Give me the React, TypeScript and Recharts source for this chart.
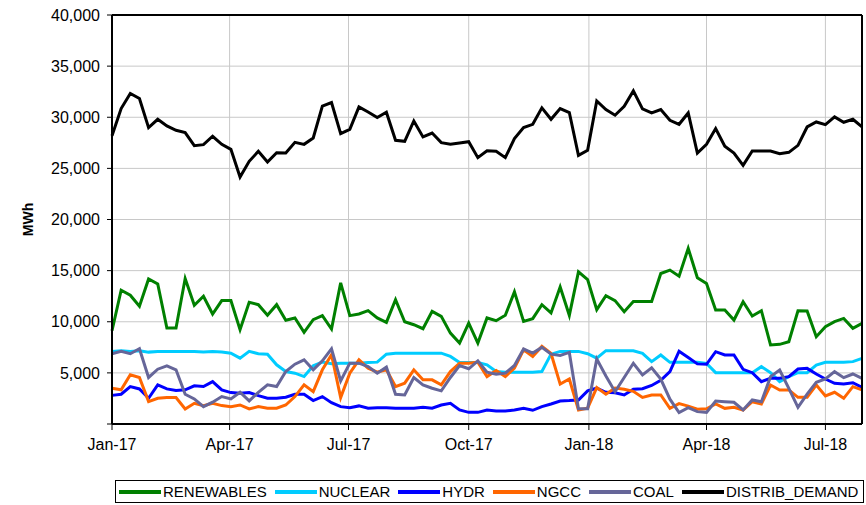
import React from 'react';
import { LineChart, Line, XAxis, YAxis, CartesianGrid, ReferenceLine } from 'recharts';

// weekly values, first week starts 1 Jan 2017
const START_DATE = '2017-01-01';

const RENEWABLES = [
  9120, 13080, 12590, 11510, 14190, 13700, 9390, 9390, 14220, 11610,
  12490, 10760, 12070, 12070, 9220, 11900, 11670, 10630, 11670, 10140,
  10370, 8960, 10200, 10600, 9290, 13800, 10600, 10760, 11090, 10370,
  9940, 12160, 10000, 9710, 9320, 11020, 10530, 8890, 7910, 9870,
  7910, 10370, 10100, 10630, 12920, 10040, 10300, 11670, 10860, 13400,
  10630, 14880, 14130, 11180, 12550, 12070, 10980, 11980, 11980, 11980,
  14720, 15050, 14460, 17180, 14300, 13740, 11150, 11150, 10170, 11960,
  10560, 11080, 7730, 7790, 8050, 11080, 11050, 8540, 9520, 10010,
  10330, 9360, 9840,
];

const NUCLEAR = [
  7100, 7160, 7100, 7160, 7030, 7100, 7100, 7100, 7100, 7100,
  7030, 7100, 7030, 6930, 6440, 7100, 6870, 6830, 5790, 5130,
  4970, 4640, 5690, 6050, 5890, 5950, 5950, 5950, 6020, 6050,
  6830, 6930, 6930, 6930, 6930, 6930, 6930, 6610, 6020, 6020,
  6020, 5790, 5130, 5070, 5070, 5070, 5070, 5130, 6830, 7100,
  7100, 7100, 6870, 6440, 7170, 7170, 7170, 7170, 6910, 6100,
  6750, 6030, 6030, 6030, 6030, 5930, 5020, 5020, 5020, 5020,
  5020, 5610, 5020, 4140, 4630, 5020, 5020, 5770, 6030, 6030,
  6030, 6100, 6420,
];

const HYDR = [
  2800, 2910, 3660, 3430, 2520, 3830, 3430, 3270, 3340, 3730,
  3660, 4150, 3340, 3070, 3010, 3070, 2780, 2520, 2520, 2620,
  2910, 2910, 2290, 2680, 2090, 1700, 1600, 1770, 1540, 1600,
  1600, 1540, 1540, 1540, 1640, 1540, 1860, 2030, 1370, 1140,
  1140, 1370, 1280, 1280, 1370, 1540, 1340, 1700, 1960, 2250,
  2290, 2350, 3240, 3500, 3100, 3050, 2840, 3400, 3450, 3770,
  4280, 5120, 7120, 6500, 5880, 5840, 7070, 6750, 6750, 5350,
  5020, 4140, 4470, 4470, 4630, 5380, 5440, 4890, 4400, 3980,
  3910, 4040, 3590,
];

const NGCC = [
  3500, 3340, 4810, 4550, 2190, 2520, 2580, 2580, 1470, 2030,
  1800, 2030, 1800, 1700, 1860, 1470, 1700, 1540, 1540, 1860,
  2680, 3830, 3170, 5300, 6770, 2580, 4970, 6280, 5460, 5070,
  5300, 3660, 3990, 5300, 4320, 4320, 3830, 5130, 5950, 5950,
  6050, 4640, 5230, 4640, 5460, 7260, 6610, 7590, 6900, 3900,
  4400, 1370, 1550, 3560, 2920, 3520, 3400, 3200, 2600, 2840,
  2840, 1540, 1990, 1750, 1450, 1480, 1960, 1530, 1630, 1370,
  2180, 1960, 3810, 3330, 3330, 2610, 2610, 3810, 2740, 3100,
  2510, 3650, 3330,
];

const COAL = [
  6870, 7100, 6870, 7360, 4550, 5360, 5690, 5300, 2910, 2450,
  1700, 2130, 2680, 2450, 3110, 2260, 3100, 3830, 3660, 5130,
  5850, 6280, 5300, 6180, 7360, 4220, 5950, 5950, 5620, 4970,
  5560, 2910, 2840, 4550, 3830, 3500, 3240, 4550, 5720, 5400,
  6180, 5070, 4870, 4970, 5720, 7330, 6930, 7490, 6830, 6700,
  7000, 1480, 1480, 6350, 4700, 3160, 4550, 5940, 4800, 5500,
  4400, 2430, 1120, 1600, 1210, 1140, 2250, 2180, 2120, 1370,
  2350, 2180, 4630, 5280, 3490, 1630, 2930, 4080, 4400, 5120,
  4530, 4890, 4470,
];

const DISTRIB_DEMAND = [
  28200, 30850, 32320, 31830, 28990, 29800, 29150, 28725, 28500, 27220,
  27320, 28140, 27350, 26860, 24150, 25690, 26670, 25620, 26530, 26500,
  27550, 27350, 27970, 31080, 31440, 28400, 28820, 31010, 30520, 29970,
  30490, 27750, 27650, 29640, 28080, 28460, 27520, 27350, 27480, 27610,
  26050, 26730, 26670, 26050, 27910, 28990, 29310, 30920, 29800, 30850,
  30460, 26270, 26760, 31600, 30750, 30200, 31080, 32580, 30820, 30420,
  30750, 29700, 29310, 30420, 26500, 27350, 28890, 27160, 26500, 25290,
  26700, 26700, 26700, 26440, 26570, 27250, 29050, 29540, 29280, 30030,
  29510, 29800, 29050,
];

const TICK_DATES = ['2017-01-01', '2017-04-01', '2017-07-01', '2017-10-01', '2018-01-01', '2018-04-01', '2018-07-01'];
const TICK_LABELS = ['Jan-17', 'Apr-17', 'Jul-17', 'Oct-17', 'Jan-18', 'Apr-18', 'Jul-18'];
const Y_TICKS = [0, 5000, 10000, 15000, 20000, 25000, 30000, 35000, 40000];

const SERIES = [
  { key: 'renewables', name: 'RENEWABLES', color: '#008000', values: RENEWABLES },
  { key: 'nuclear', name: 'NUCLEAR', color: '#00ccff', values: NUCLEAR },
  { key: 'hydr', name: 'HYDR', color: '#0000ff', values: HYDR },
  { key: 'ngcc', name: 'NGCC', color: '#ff6600', values: NGCC },
  { key: 'coal', name: 'COAL', color: '#666699', values: COAL },
  { key: 'demand', name: 'DISTRIB_DEMAND', color: '#000000', values: DISTRIB_DEMAND },
];

const DAY = 86400000;
const start = Date.parse(START_DATE);
const data = DISTRIB_DEMAND.map((_, i) => {
  const row: any = { t: start + i * 7 * DAY };
  SERIES.forEach(s => { row[s.key] = s.values[i]; });
  return row;
});
const xTicks = TICK_DATES.map(d => Date.parse(d));
const lastT = data[data.length - 1].t;

const FONT = '"Liberation Sans", Arial, sans-serif';

const MwhLabel = ({ viewBox }: any) => {
  const cx = viewBox.x + 28;
  const cy = viewBox.y + viewBox.height / 2;
  return (
    <text x={cx} y={cy} transform={`rotate(-90 ${cx} ${cy})`} textAnchor="middle" dominantBaseline="central"
      style={{ fontFamily: FONT, fontSize: 14, fontWeight: 'bold', fill: '#000' }}>
      MWh
    </text>
  );
};

export default function App() {
  return (
    <div style={{ position: 'absolute', left: 0, top: 0, width: 866, height: 505, background: '#fff' }}>
      <LineChart width={866} height={505} data={data} margin={{ top: 15, right: 4, left: 0, bottom: 51 }}>
        <CartesianGrid stroke="#c8c8c8" strokeWidth={1} />
        <XAxis
          dataKey="t"
          type="number"
          domain={[start, lastT]}
          ticks={xTicks}
          tickFormatter={(v) => TICK_LABELS[xTicks.indexOf(v)] ?? ''}
          height={30}
          tickSize={6}
          tickMargin={9}
          axisLine={{ stroke: '#000', strokeWidth: 2 }}
          tickLine={{ stroke: '#000' }}
          tick={{ fill: '#000', fontSize: 16, fontFamily: FONT }}
        />
        <YAxis
          domain={[0, 40000]}
          ticks={Y_TICKS}
          width={112}
          tickSize={5}
          tickMargin={7}
          tickFormatter={(v) => (v === 0 ? '' : v.toLocaleString('en-US'))}
          axisLine={{ stroke: '#000', strokeWidth: 2 }}
          tickLine={{ stroke: '#000' }}
          tick={{ fill: '#000', fontSize: 16, fontFamily: FONT }}
          label={<MwhLabel />}
        />
        <YAxis
          yAxisId="r"
          orientation="right"
          mirror
          domain={[0, 40000]}
          ticks={Y_TICKS}
          width={1}
          tickSize={4}
          tickFormatter={() => ''}
          axisLine={{ stroke: '#000', strokeWidth: 2 }}
          tickLine={{ stroke: '#000' }}
        />
        <ReferenceLine y={40000} stroke="#000" strokeWidth={2} />
        {SERIES.map(s => (
          <Line
            key={s.key}
            type="linear"
            dataKey={s.key}
            name={s.name}
            stroke={s.color}
            strokeWidth={3}
            dot={false}
            isAnimationActive={false}
          />
        ))}
      </LineChart>
      <div style={{
        position: 'absolute', left: 115, top: 480, width: 747, height: 21,
        border: '1px solid #000', display: 'flex', alignItems: 'center',
        fontFamily: FONT, fontSize: 15, color: '#000', boxSizing: 'content-box',
      }}>
        {SERIES.map(s => (
          <div key={s.key} style={{ display: 'flex', alignItems: 'center', marginLeft: s.key === 'renewables' ? 3 : 0 }}>
            <div style={{ width: 42, height: 4, background: s.color, marginRight: 2 }} />
            <span style={{ marginRight: 8 }}>{s.name}</span>
          </div>
        ))}
      </div>
    </div>
  );
}
